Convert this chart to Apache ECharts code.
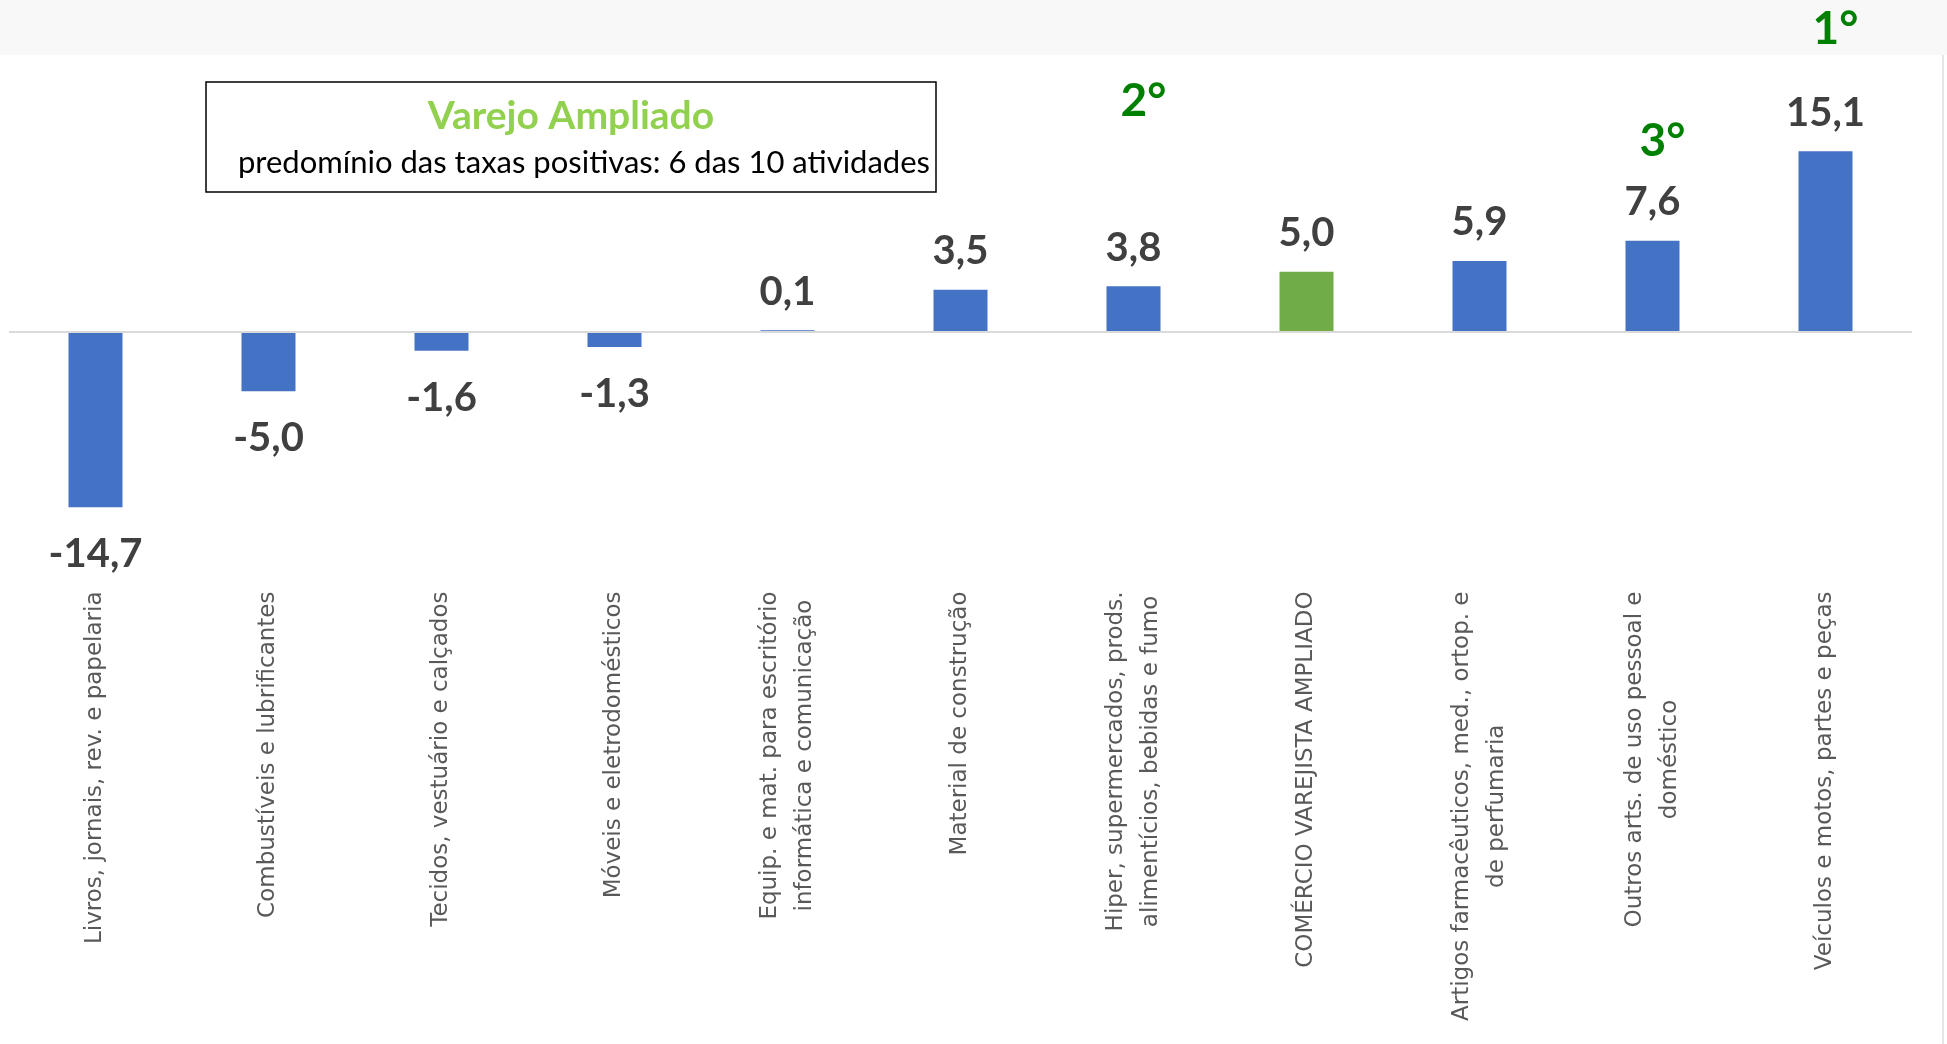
<!DOCTYPE html>
<html>
<head>
<meta charset="utf-8">
<script src="https://cdn.jsdelivr.net/npm/echarts@6/dist/echarts.min.js"></script>
<style>
  html, body { margin: 0; padding: 0; background: #fff; }
  #chart { width: 1947px; height: 1044px; }
</style>
</head>
<body>
<div id="chart"></div>
<script>
// atividades do varejo ampliado
var categorias = [
  'Livros, jornais, rev. e papelaria',
  'Combustíveis e lubrificantes',
  'Tecidos, vestuário e calçados',
  'Móveis e eletrodomésticos',
  'Equip. e mat. para escritório\ninformática e comunicação',
  'Material de construção',
  'Hiper, supermercados, prods.\nalimentícios, bebidas e fumo',
  'COMÉRCIO VAREJISTA AMPLIADO',
  'Artigos farmacêuticos, med., ortop. e\nde perfumaria',
  'Outros arts. de uso pessoal e\ndoméstico',
  'Veículos e motos, partes e peças'
];
var taxas = [-14.7, -5.0, -1.6, -1.3, 0.1, 3.5, 3.8, 5.0, 5.9, 7.6, 15.1];

// ranking (1°, 2°, 3°) e altura da anotação
var rankTexto = ['2°', '3°', '1°'];
var rankCategoria = [6, 9, 10];
var rankAltura = [19.3, 15.9, 25.3];

var indiceTotal = 7; // barra do total em verde

var azul = '#4472C4';
var verde = '#70AD47';

var dadosBarra = [];
for (var i = 0; i < taxas.length; i++) {
  var item = { value: taxas[i] };
  if (i == indiceTotal) item.itemStyle = { color: verde };
  if (taxas[i] < 0) {
    item.label = { position: 'bottom', distance: 27 };
  } else {
    item.label = { position: 'top', distance: 18.5 };
  }
  dadosBarra.push(item);
}

var dadosRank = [];
for (var i = 0; i < rankCategoria.length; i++) {
  dadosRank.push([rankCategoria[i], rankAltura[i]]);
}

var chart = echarts.init(document.getElementById('chart'));

chart.setOption({
  animation: false,
  backgroundColor: '#ffffff',
  grid: { left: 9, right: 35, top: 9, bottom: 473.5 },
  graphic: [
    { type: 'rect', z: 0, shape: { x: 0, y: 0, width: 1947, height: 55 }, style: { fill: '#f8f8f8' } },
    { type: 'line', z: 0, shape: { x1: 1943, y1: 55, x2: 1943, y2: 1044 }, style: { stroke: '#e6e6e6', lineWidth: 2 } },
    { type: 'rect', z: 5, shape: { x: 206, y: 82, width: 730, height: 110 }, style: { fill: '#ffffff', stroke: '#000000', lineWidth: 1.5 } },
    { type: 'text', z: 6, x: 571, y: 116, style: { text: 'Varejo Ampliado', fill: '#92D050', font: 'bold 39px Lato', align: 'center', verticalAlign: 'middle' } },
    { type: 'text', z: 6, x: 584, y: 163, style: { text: 'predomínio das taxas positivas: 6 das 10 atividades', fill: '#000000', font: '31px Lato', align: 'center', verticalAlign: 'middle' } }
  ],
  xAxis: {
    type: 'category',
    data: categorias,
    axisLine: { show: false, onZero: false },
    axisTick: { show: false },
    axisLabel: {
      interval: 0,
      rotate: 90,
      margin: 21,
      fontFamily: 'DejaVu Sans',
      fontSize: 23,
      color: '#595959',
      formatter: function (v) {
        return v.split('\n').map(function (l) { return '{c|' + l + '}'; }).join('\n');
      },
      rich: {
        c: { align: 'center', fontFamily: 'DejaVu Sans', fontSize: 23, lineHeight: 35, color: '#595959' }
      }
    }
  },
  yAxis: {
    type: 'value',
    min: -20,
    max: 27,
    show: false,
    splitLine: { show: false }
  },
  series: [
    {
      type: 'bar',
      data: dadosBarra,
      barWidth: 54,
      itemStyle: { color: azul },
      label: {
        show: true,
        fontFamily: 'Lato',
        fontWeight: 'bold',
        fontSize: 40,
        color: '#404040',
        formatter: function (p) { return p.value.toFixed(1).replace('.', ','); }
      },
      markLine: {
        silent: true,
        symbol: 'none',
        label: { show: false },
        lineStyle: { color: '#d9d9d9', width: 2, type: 'solid' },
        data: [{ yAxis: 0 }]
      }
    },
    {
      type: 'scatter',
      data: dadosRank,
      symbolSize: 1,
      clip: false,
      itemStyle: { color: 'transparent', opacity: 1 },
      label: {
        show: true,
        position: 'inside',
        offset: [10, 0],
        fontFamily: 'Lato',
        fontWeight: 'bold',
        fontSize: 46,
        color: '#008000',
        opacity: 1,
        formatter: function (p) { return rankTexto[p.dataIndex]; }
      }
    }
  ]
});
</script>
</body>
</html>
